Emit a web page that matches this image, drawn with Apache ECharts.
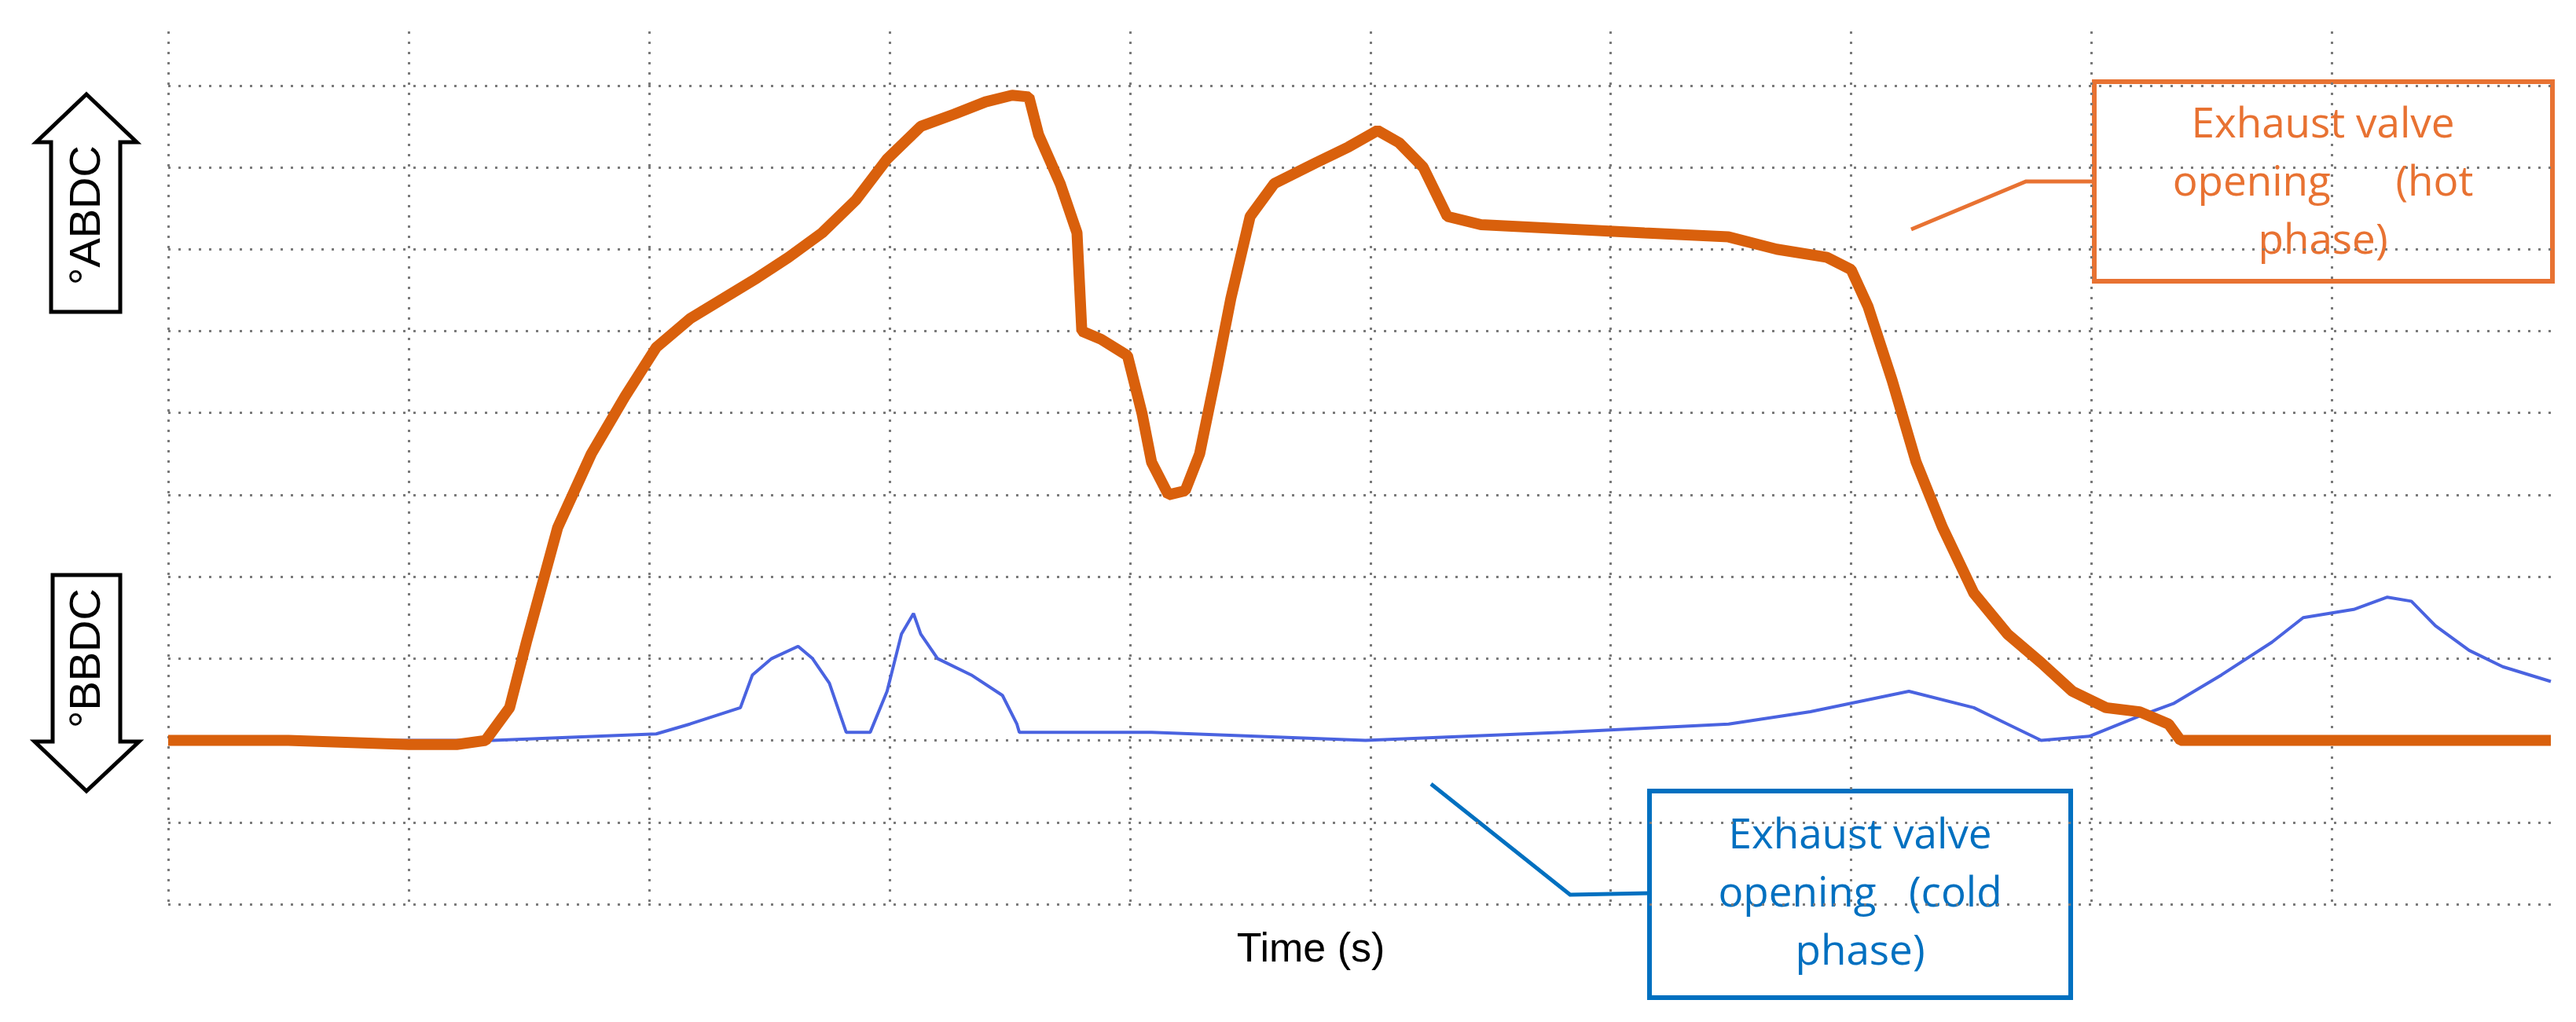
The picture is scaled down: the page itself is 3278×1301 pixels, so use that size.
<!DOCTYPE html>
<html>
<head>
<meta charset="utf-8">
<script src="https://cdn.jsdelivr.net/npm/echarts@6/dist/echarts.min.js"></script>
<style>html,body{margin:0;padding:0;background:#fff}#main{width:3278px;height:1301px}</style>
</head>
<body>
<div id="main"></div>
<script>
// values in grid divisions (x: time div, y: crank angle div)
var hotX = [0, 0.5, 1.0, 1.2, 1.32, 1.42, 1.49, 1.62, 1.76, 1.90, 2.03, 2.17, 2.31, 2.45, 2.58, 2.72, 2.86, 2.99, 3.13, 3.27, 3.40, 3.51, 3.58, 3.62, 3.71, 3.78, 3.80, 3.88, 3.99, 4.05, 4.09, 4.16, 4.23, 4.29, 4.36, 4.42, 4.50, 4.60, 4.77, 4.91, 5.03, 5.12, 5.22, 5.32, 5.46, 6.14, 6.49, 6.69, 6.90, 7.00, 7.07, 7.17, 7.27, 7.38, 7.51, 7.65, 7.79, 7.92, 8.06, 8.20, 8.32, 8.37, 9.0, 9.91];
var hotY = [2.0, 2.0, 1.95, 1.95, 2.0, 2.4, 3.2, 4.6, 5.5, 6.2, 6.8, 7.15, 7.4, 7.65, 7.9, 8.2, 8.6, 9.1, 9.5, 9.65, 9.8, 9.88, 9.86, 9.4, 8.8, 8.2, 7.0, 6.9, 6.7, 6.0, 5.4, 5.0, 5.05, 5.5, 6.5, 7.4, 8.4, 8.8, 9.05, 9.25, 9.45, 9.3, 9.0, 8.4, 8.3, 8.2, 8.15, 8.0, 7.9, 7.75, 7.3, 6.4, 5.4, 4.6, 3.8, 3.3, 2.95, 2.6, 2.4, 2.35, 2.2, 2.0, 2.0, 2.0];
var coldX = [0, 1.35, 2.03, 2.17, 2.38, 2.43, 2.51, 2.62, 2.68, 2.75, 2.82, 2.92, 2.99, 3.05, 3.10, 3.13, 3.20, 3.34, 3.47, 3.53, 3.54, 4.09, 4.98, 5.80, 6.49, 6.83, 7.24, 7.51, 7.65, 7.79, 7.99, 8.20, 8.34, 8.54, 8.75, 8.88, 9.09, 9.23, 9.33, 9.43, 9.57, 9.71, 9.91];
var coldY = [2.0, 2.0, 2.08, 2.2, 2.4, 2.8, 3.0, 3.15, 3.0, 2.7, 2.1, 2.1, 2.6, 3.3, 3.55, 3.3, 3.0, 2.8, 2.55, 2.2, 2.1, 2.1, 2.0, 2.1, 2.2, 2.35, 2.6, 2.4, 2.2, 2.0, 2.05, 2.3, 2.45, 2.8, 3.2, 3.5, 3.6, 3.75, 3.7, 3.4, 3.1, 2.9, 2.72];

function pairs(xs, ys) {
    return xs.map(function (x, i) { return [x, ys[i]]; });
}

var chart = echarts.init(document.getElementById('main'));
var dotted = { show: true, showMaxLine: false, lineStyle: { color: '#7a7a7a', width: 3, type: [3, 10] } };

var option = {
    backgroundColor: '#fff',
    animation: false,
    grid: { left: 214, right: 32, top: 40, bottom: 150 },
    xAxis: {
        type: 'value', min: 0, max: 9.91, interval: 1,
        axisLine: { show: false }, axisTick: { show: false }, axisLabel: { show: false },
        splitLine: dotted
    },
    yAxis: {
        type: 'value', min: 0, max: 10.66, interval: 1,
        axisLine: { show: false }, axisTick: { show: false }, axisLabel: { show: false },
        splitLine: dotted
    },
    series: [
        {
            type: 'line', data: pairs(coldX, coldY), symbol: 'none',
            lineStyle: { color: '#4A63E0', width: 4 }, z: 2
        },
        {
            type: 'line', data: pairs(hotX, hotY), symbol: 'none',
            lineStyle: { color: '#D9600C', width: 14 }, z: 3
        }
    ],
    graphic: [
        // up arrow
        { type: 'polygon', shape: { points: [[110, 120], [174, 181], [153, 181], [153, 397], [65, 397], [65, 181], [46, 181]] },
          style: { fill: '#fff', stroke: '#000', lineWidth: 5 } },
        { type: 'text', x: 112, y: 274, rotation: Math.PI / 2,
          style: { text: '°ABDC', font: '56px "Liberation Sans"', fill: '#000', align: 'center', verticalAlign: 'middle' } },
        // down arrow
        { type: 'polygon', shape: { points: [[67, 732], [153, 732], [153, 944], [177, 944], [110, 1007], [44, 944], [67, 944]] },
          style: { fill: '#fff', stroke: '#000', lineWidth: 5 } },
        { type: 'text', x: 112, y: 838, rotation: Math.PI / 2,
          style: { text: '°BBDC', font: '56px "Liberation Sans"', fill: '#000', align: 'center', verticalAlign: 'middle' } },
        // hot annotation
        { type: 'polyline', shape: { points: [[2432, 292], [2578, 231], [2665, 231]] },
          style: { stroke: '#E87232', lineWidth: 5, fill: null } },
        { type: 'rect', shape: { x: 2665, y: 104, width: 583, height: 254 },
          style: { fill: '#fff', stroke: '#E87232', lineWidth: 6 } },
        { type: 'text', x: 2956, y: 234,
          style: { text: 'Exhaust valve\nopening      (hot\nphase)', font: '53px "Open Sans"', lineHeight: 74, fill: '#E87232', align: 'center', verticalAlign: 'middle' } },
        // cold annotation
        { type: 'polyline', shape: { points: [[1821, 998], [1998, 1139], [2099, 1137]] },
          style: { stroke: '#0070C0', lineWidth: 5, fill: null } },
        { type: 'rect', shape: { x: 2099, y: 1007, width: 536, height: 263 },
          style: { fill: '#fff', stroke: '#0070C0', lineWidth: 6 } },
        { type: 'text', x: 2367, y: 1139,
          style: { text: 'Exhaust valve\nopening   (cold\nphase)', font: '53px "Open Sans"', lineHeight: 74, fill: '#0070C0', align: 'center', verticalAlign: 'middle' } },
        // axis title
        { type: 'text', x: 1668, y: 1210,
          style: { text: 'Time (s)', font: '52px "Liberation Sans"', fill: '#000', align: 'center', verticalAlign: 'middle' } }
    ]
};
chart.setOption(option);
</script>
</body>
</html>
